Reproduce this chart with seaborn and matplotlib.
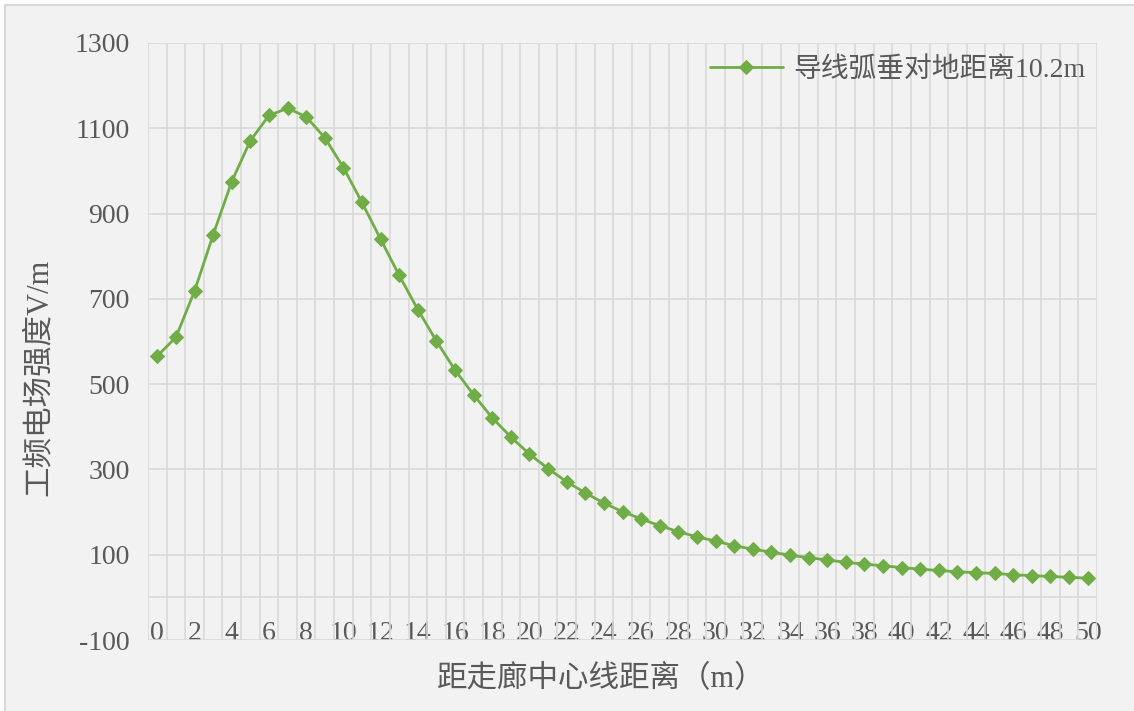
import numpy as np
import seaborn as sns
import matplotlib.pyplot as plt
from matplotlib.patches import Rectangle

# 距走廊中心线距离 (m)
distance = list(range(0, 51))
# 工频电场强度 V/m（导线弧垂对地距离10.2m）
field = [566, 610, 718, 850, 975, 1071, 1130, 1147, 1127, 1078,
         1008, 926, 840, 755, 675, 601, 533, 475, 421, 376,
         336, 302, 271, 245, 221, 201, 184, 168, 154, 142,
         132, 121, 113, 106, 99, 93, 88, 82, 78, 74,
         70, 66, 63, 60, 58, 56, 53, 51, 49, 47, 45]
series_name = '导线弧垂对地距离10.2m'
y_ticks = [-100, 100, 300, 500, 700, 900, 1100, 1300]
x_ticks = list(range(0, 51, 2))

sns.set_theme(style='white')
plt.rcParams['font.family'] = ['Liberation Serif', 'Noto Sans CJK SC']
plt.rcParams['axes.unicode_minus'] = False
txt = '#595959'
grid_c = '#d9d9d9'
green = '#70AD47'

fig = plt.figure(figsize=(11.34, 7.11), dpi=100, facecolor='white')
# 背景框
fig.patches.append(Rectangle((5 / 1134, -0.1), 1.2, 1 - 5 / 711 + 0.1,
                             transform=fig.transFigure, facecolor='#f2f2f2',
                             edgecolor=grid_c, lw=1.5, zorder=-10))
ax = fig.add_axes([148 / 1134, 1 - 640 / 711, (1097 - 148) / 1134, (640 - 43) / 711])
ax.set_facecolor('#f2f2f2')

sns.lineplot(x=distance, y=field, ax=ax, color=green, lw=2, marker='D',
             markersize=7, markeredgecolor=green, label=series_name, zorder=5)

ax.set_xlim(-0.5, 50.5)
ax.set_ylim(-100, 1300)
ax.set_yticks(y_ticks)
ax.set_xticks(x_ticks)
ax.set_xticks(np.arange(-0.5, 51, 1), minor=True)
ax.grid(False)
ax.grid(True, which='minor', axis='x', color=grid_c, lw=1.2)
ax.grid(True, which='major', axis='y', color=grid_c, lw=1.2)
ax.axhline(0, color=grid_c, lw=1.2, zorder=1)
for s in ax.spines.values():
    s.set_visible(False)

ax.tick_params(axis='y', length=0, pad=13, labelsize=20, labelcolor=txt)
ax.tick_params(axis='x', which='both', length=0, pad=-14, labelsize=20, labelcolor=txt)

ax.set_xlabel('距走廊中心线距离（m）', fontsize=22, color=txt)
ax.set_ylabel('工频电场强度V/m', fontsize=22, color=txt)
ax.xaxis.set_label_coords(0.478, -0.067, transform=ax.transAxes)
ax.xaxis.label.set_va('center')
ax.yaxis.set_label_coords(-0.114, 0.44, transform=ax.transAxes)
ax.yaxis.label.set_va('center')

leg = ax.legend(loc='upper right', frameon=False, fontsize=20, labelcolor=txt,
                handlelength=2.6, handletextpad=0.4, borderaxespad=0.0,
                bbox_to_anchor=(1.0, 0.995))

fig.savefig('out.png', dpi=100, facecolor=fig.get_facecolor())
